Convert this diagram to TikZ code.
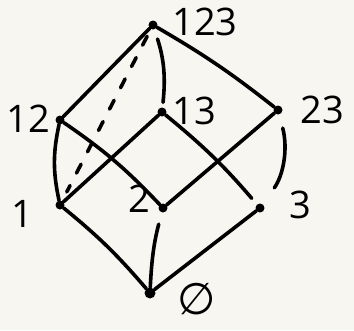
\documentclass[tikz,border=0pt]{standalone}
\usepackage{fontspec}
\setmainfont{Open Sans}
\newfontfamily\symfont{DejaVu Sans}
\begin{document}
\begin{tikzpicture}[x=1pt,y=-1pt,
  edge/.style={line width=3.6pt,line cap=round,black},
  dot/.style={circle,fill=black,inner sep=0pt,minimum size=9pt},
  lbl/.style={font=\fontsize{38}{38}\selectfont}]
\fill[fill={rgb,255:red,248;green,246;blue,241}] (0,0) rectangle (354,330);
\useasboundingbox (0,0) rectangle (354,330);
% vertices
\node[dot] (n123) at (153,25) {};
\node[dot] (n12) at (60,120) {};
\node[dot] (n13) at (162,112) {};
\node[dot] (n23) at (278,110) {};
\node[dot] (n1) at (60,205) {};
\node[dot] (n2) at (163,208) {};
\node[dot] (n3) at (260,208) {};
\node[dot,minimum size=11pt] (n0) at (150,293) {};
% labels
\node[lbl] (l123) at (205,22) {123};
\node[lbl] (l12) at (28,119) {12};
\node[lbl] (l13) at (194,111) {13};
\node[lbl] (l23) at (322,110) {23};
\node[lbl] (l1) at (22,214) {1};
\node[lbl] (l2) at (139,199) {2};
\node[lbl] (l3) at (300,205) {3};
\node[font=\fontsize{44}{44}\selectfont\symfont,inner sep=0pt] (l0) at (197,299) {∅};
% edges
\draw[edge] (n123) -- (n12);
\draw[edge,shorten <=10pt,shorten >=5pt] (n123) to[bend left=12] (n13);
\draw[edge] (n123) to[bend left=4] (n23);
\draw[edge,dash pattern=on 10pt off 14pt,shorten <=8pt,shorten >=10pt] (n123) -- (n1);
\draw[edge] (n12) to[bend right=12] (n1);
\draw[edge] (n12) to[bend left=6] (n2);
\draw[edge] (n13) -- (n1);
\draw[edge,shorten >=8pt] (n13) to[bend left=5] (n3);
\draw[edge] (n23) -- (n2);
\draw[edge,shorten <=14pt,shorten >=20pt] (n23) to[bend left=25] (n3);
\draw[edge] (n1) to[bend left=5] (n0);
\draw[edge,shorten <=12pt] (n2) to[bend right=6] (n0);
\draw[edge] (n3) -- (n0);
\end{tikzpicture}
\end{document}
